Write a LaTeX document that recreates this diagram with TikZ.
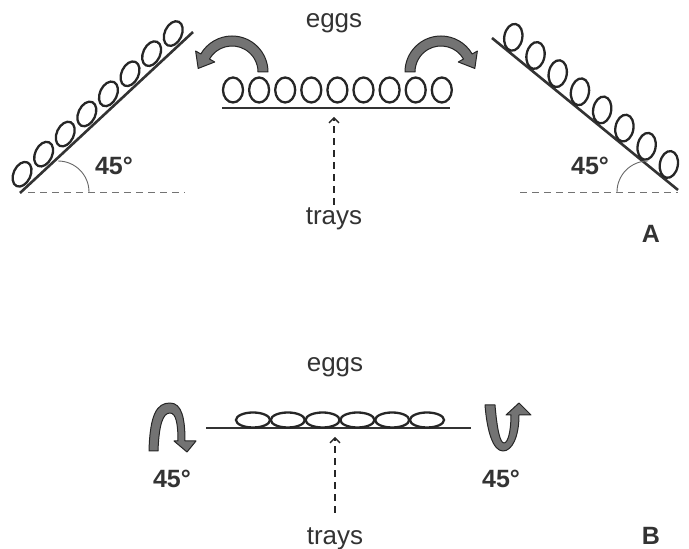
\documentclass[tikz,border=0pt]{standalone}
\usepackage{fontspec}
\setmainfont{Liberation Sans}
\usetikzlibrary{arrows.meta,calc}

\begin{document}
\begin{tikzpicture}[x=1pt,y=1pt]
% Styles
\tikzset{
    tray/.style={line width=2.6pt, draw=black!80},
    egg/.style={line width=2.3pt, draw=black!85},
    base/.style={draw=black!55, line width=0.9pt, dash pattern=on 7pt off 5pt},
    lift/.style={draw=black!85, line width=1.4pt, dash pattern=on 7pt off 5pt,
        -{Straight Barb[length=5pt,width=10pt]}},
    turn/.style={fill=black!55, draw=black!85, line width=1pt, line join=round},
    lbl/.style={anchor=base, text=black!80, font=\fontsize{26}{30}\selectfont},
    ang/.style={anchor=base, text=black!80, font=\bfseries\fontsize{25}{30}\selectfont}
}
\useasboundingbox (0,0) rectangle (689,549);

% Panel A: trays
\coordinate (LA1) at (20,356);
\coordinate (LA2) at (193,517);
\coordinate (CA1) at (222,441);
\coordinate (CA2) at (450,441);
\coordinate (RA1) at (492,511);
\coordinate (RA2) at (678,359);
\draw[tray] (LA1) -- (LA2);
\draw[tray] (CA1) -- (CA2);
\draw[tray] (RA1) -- (RA2);

% Panel A: eggs
\foreach \s in {0,...,7}
    \draw[egg, shift={($(LA1)!{(14+29.5*\s)/236.3}!(LA2)+(-8.2,9.2)$)}, rotate=-25]
        (0,0) ellipse[x radius=8.5, y radius=13];
\foreach \s in {0,...,8}
    \draw[egg] (233+26.1*\s,459) ellipse[x radius=10, y radius=12.5];
\foreach \s in {0,...,7}
    \draw[egg, shift={($(RA1)!{(16+28.7*\s)/240.2}!(RA2)+(8.9,10.8)$)}, rotate=-10]
        (0,0) ellipse[x radius=9, y radius=13.5];

% Panel A: angles
\coordinate (LB) at (28,357);
\coordinate (RB) at (520,357);
\draw[base] (LB) -- (185,357);
\draw[base] (RB) -- (678,357);
\draw[black!60, line width=0.9pt] (58,388) arc[start angle=90, end angle=0, radius=31];
\draw[black!60, line width=0.9pt] (648,388) arc[start angle=90, end angle=180, radius=31];
\node[ang] (AL) at (114,374) {45°};
\node[ang] (AR) at (590,374) {45°};

% Panel A: turning arrows
\coordinate (TL) at (232,477);
\coordinate (TR) at (441,477);
\draw[turn] (268,477) arc[start angle=0, end angle=150, radius=36]
    -- ([shift={(TL)}]150:42) -- ([shift={(TL)}]174:34) -- ([shift={(TL)}]150:20)
    -- ([shift={(TL)}]150:26) arc[start angle=150, end angle=0, radius=26] -- cycle;
\draw[turn] (405,477) arc[start angle=180, end angle=30, radius=36]
    -- ([shift={(TR)}]30:42) -- ([shift={(TR)}]6:34) -- ([shift={(TR)}]30:20)
    -- ([shift={(TR)}]30:26) arc[start angle=30, end angle=180, radius=26] -- cycle;

% Panel A: labels
\node[lbl] (eggsA) at (334,521) {eggs};
\node[lbl] (traysA) at (334,324) {trays};
\coordinate (CAm) at (334,432);
\draw[lift] (traysA) -- (CAm);
\node[ang] (A) at (651,306) {A};

% Panel B: tray and eggs
\coordinate (CB1) at (206,121);
\coordinate (CB2) at (471,121);
\draw[tray, line width=2pt] (CB1) -- (CB2);
\foreach \s in {0,...,5}
    \draw[egg] (253+34.8*\s,129) ellipse[x radius=17, y radius=7.5];

% Panel B: turning arrows
\draw[turn] (149,98) .. controls (150,135) and (157,146) .. (170,146)
    .. controls (182,146) and (185,130) .. (185,108) -- (196,108) -- (187,97)
    -- (174,108) -- (178,108) .. controls (178,125) and (176,136) .. (170,136)
    .. controls (163,136) and (159,125) .. (158,98) -- cycle;
\draw[turn] (485,144) -- (495,144) .. controls (497,120) and (500,106) .. (504,106)
    .. controls (508,106) and (511,118) .. (511,134) -- (506,134) -- (519,146)
    -- (531,134) -- (519,134) .. controls (519,112) and (512,98) .. (503,98)
    .. controls (493,98) and (487,118) .. (485,144) -- cycle;

% Panel B: labels
\node[lbl] (eggsB) at (335,177) {eggs};
\node[lbl] (traysB) at (335,4) {trays};
\coordinate (CBm) at (335,112);
\draw[lift] ([yshift=12pt]traysB.north) -- (CBm);
\node[ang] (BL) at (172,61) {45°};
\node[ang] (BR) at (501,61) {45°};
\node[ang, inner sep=0pt] (B) at (651,4) {B};
\end{tikzpicture}
\end{document}
